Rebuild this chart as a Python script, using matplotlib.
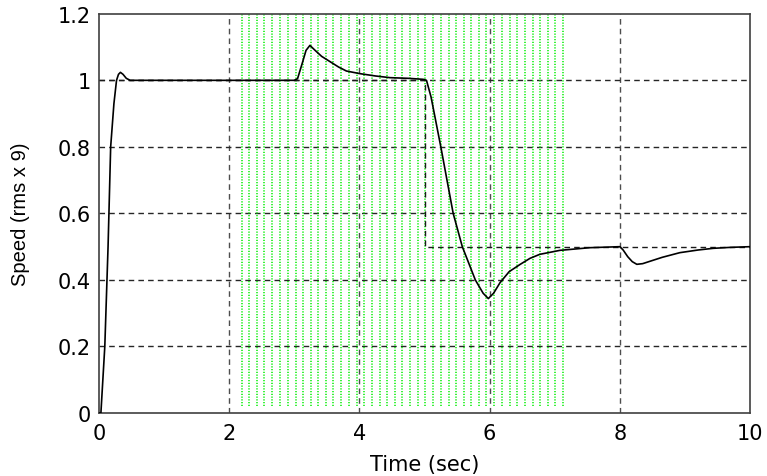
import matplotlib
matplotlib.use("Agg")
import matplotlib.pyplot as plt

# speed response (time in sec, speed in rms x 9)
t_speed = [0.0, 0.03, 0.09, 0.14, 0.18, 0.23, 0.27, 0.30, 0.33, 0.37, 0.42, 0.48, 0.58,
           3.0, 3.05, 3.12, 3.18, 3.24, 3.32, 3.42, 3.55, 3.68, 3.80, 4.01, 4.25, 4.47,
           4.75, 4.98, 5.03, 5.10, 5.25, 5.44, 5.58, 5.78, 5.90, 5.98, 6.06, 6.16,
           6.30, 6.47, 6.62, 6.77, 7.08, 7.54, 8.0, 8.05, 8.12, 8.19, 8.26, 8.35,
           8.46, 8.65, 8.92, 9.20, 9.43, 9.70, 10.0]
speed = [0.0, 0.0, 0.2, 0.5, 0.8, 0.93, 1.0, 1.018, 1.024, 1.018, 1.006, 1.0, 1.0,
         1.0, 1.005, 1.05, 1.09, 1.105, 1.09, 1.072, 1.056, 1.040, 1.028, 1.020, 1.013, 1.008,
         1.006, 1.003, 1.0, 0.95, 0.8, 0.6, 0.5, 0.4, 0.36, 0.344, 0.36, 0.392,
         0.425, 0.447, 0.465, 0.477, 0.489, 0.497, 0.5, 0.49, 0.47, 0.455, 0.447, 0.449,
         0.456, 0.468, 0.482, 0.490, 0.495, 0.498, 0.5]

# speed reference
t_ref = [0, 5, 5, 10]
ref = [1.0, 1.0, 0.5, 0.5]

# green dotted trace (vertical strokes)
t_green = [2.19, 2.31, 2.43, 2.54, 2.66, 2.78, 2.90, 3.02, 3.13, 3.25, 3.37, 3.49,
           3.60, 3.72, 3.84, 3.96, 4.07, 4.19, 4.31, 4.43, 4.54, 4.66, 4.78, 4.90,
           5.01, 5.13, 5.25, 5.37, 5.48, 5.60, 5.72, 5.84, 5.95, 6.07, 6.19, 6.31,
           6.42, 6.54, 6.66, 6.78, 6.89, 7.01, 7.13]
green_low = 0.02
green_high = 1.2

x_ticks = [0, 2, 4, 6, 8, 10]
x_labels = ["0", "2", "4", "6", "8", "10"]
y_ticks = [0, 0.2, 0.4, 0.6, 0.8, 1.0, 1.2]
y_labels = ["0", "0.2", "0.4", "0.6", "0.8", "1", "1.2"]

plt.rcParams['font.family'] = ['DejaVu Sans']

fig = plt.figure(figsize=(7.67, 4.77), dpi=100)
ax = fig.add_axes([0.129, 0.132, 0.849, 0.837])

#grid lines
for xt in x_ticks[1:-1]:
    ax.axvline(xt, color='0.3', lw=1.0, linestyle=(0, (4, 3)), zorder=1)
for yt in y_ticks[1:-1]:
    ax.axhline(yt, color='0.15', lw=1.0, linestyle=(0, (4, 3)), zorder=1)

ax.vlines(t_green, green_low, green_high, colors='#00ee00', lw=1.1,
          linestyles=(0, (0.8, 1.0)), zorder=2)

ax.plot(t_ref, ref, color='0.1', lw=1.0, linestyle=(0, (4, 3)), zorder=3)
ax.plot(t_speed, speed, color='black', lw=1.2, zorder=4)

ax.set_xlim(0, 10)
ax.set_ylim(0, 1.2)
ax.set_xticks(x_ticks)
ax.set_xticklabels(x_labels)
ax.set_yticks(y_ticks)
ax.set_yticklabels(y_labels)
ax.tick_params(length=0, labelsize=15)
ax.tick_params(axis='x', pad=7)
ax.tick_params(axis='y', pad=6)
for s in ax.spines.values():
    s.set_color('0.25')
    s.set_linewidth(1.2)

ax.set_xlabel("Time (sec)", fontsize=15, labelpad=8)
ax.set_ylabel("Speed (rms x 9)", fontsize=14.5, family='Liberation Sans', labelpad=20)

fig.savefig("out.png", dpi=100)
